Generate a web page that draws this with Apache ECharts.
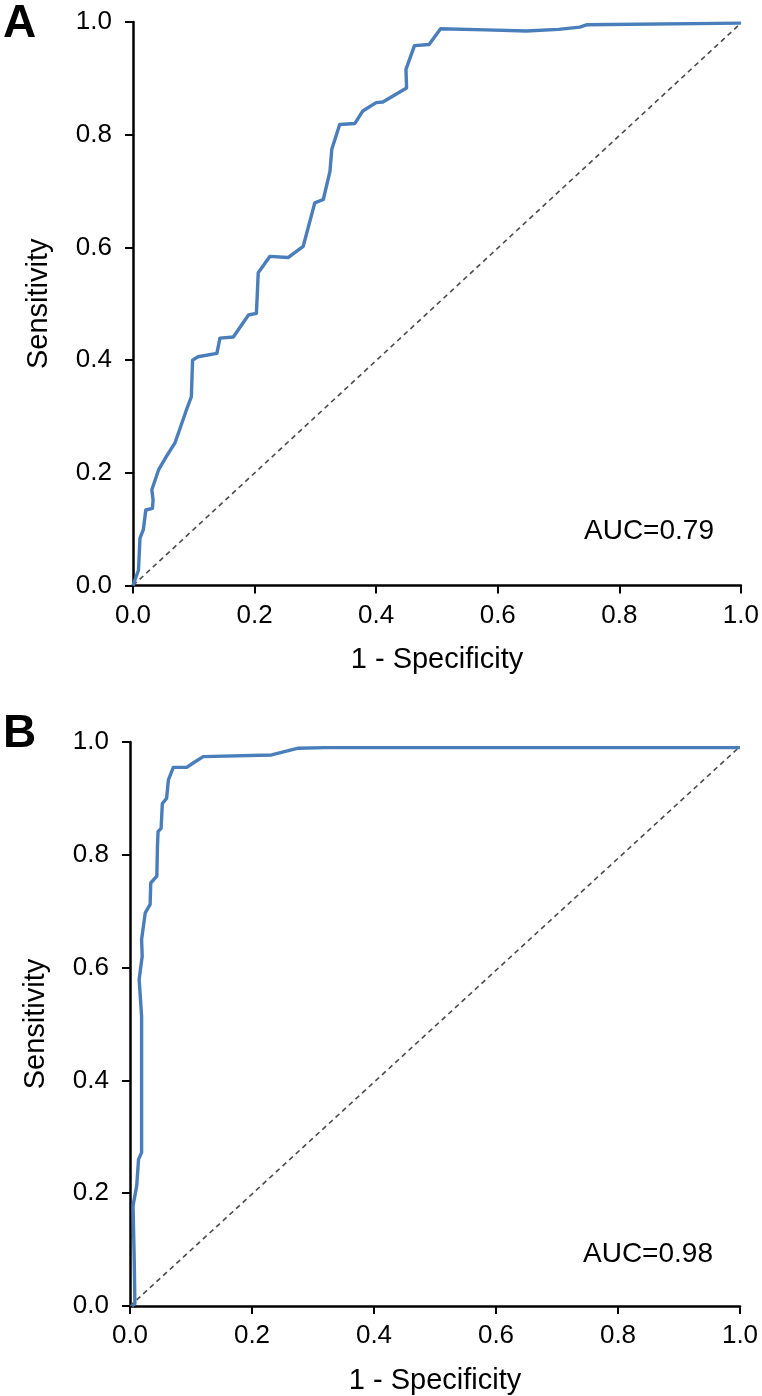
<!DOCTYPE html>
<html>
<head>
<meta charset="utf-8">
<script src="https://cdn.jsdelivr.net/npm/echarts@6/dist/echarts.min.js"></script>
<style>
html,body{margin:0;padding:0;background:#fff;}
#chart{width:762px;height:1396px;}
</style>
</head>
<body>
<div id="chart"></div>
<script>
// ---- data ----
var tickLabels = ['0.0','0.2','0.4','0.6','0.8','1.0'];
var panelLabels = ['A','B'];
var aucLabels = ['AUC=0.79','AUC=0.98'];
var xTitle = '1 - Specificity';
var yTitle = 'Sensitivity';

// Panel A ROC curve: [1 - specificity, sensitivity]
var rocA = [
  [0.000,0.000],[0.002,0.000],[0.009,0.027],[0.0115,0.084],[0.017,0.099],[0.021,0.134],
  [0.032,0.137],[0.033,0.152],[0.031,0.170],[0.042,0.205],[0.055,0.229],[0.069,0.253],
  [0.088,0.312],[0.096,0.335],[0.098,0.400],[0.107,0.406],[0.138,0.412],[0.143,0.439],
  [0.165,0.441],[0.190,0.480],[0.203,0.483],[0.206,0.555],[0.225,0.584],[0.255,0.582],
  [0.280,0.602],[0.299,0.679],[0.313,0.685],[0.324,0.735],[0.327,0.774],[0.340,0.818],
  [0.365,0.820],[0.378,0.842],[0.400,0.857],[0.411,0.858],[0.450,0.883],[0.449,0.916],
  [0.463,0.958],[0.487,0.960],[0.506,0.988],[0.580,0.986],[0.647,0.984],[0.700,0.987],
  [0.735,0.991],[0.746,0.995],[1.000,0.998]
];

// Panel B ROC curve
var rocB = [
  [0.003,0.000],[0.008,0.004],[0.007,0.077],[0.005,0.178],[0.011,0.213],[0.014,0.260],
  [0.019,0.272],[0.019,0.514],[0.015,0.579],[0.020,0.620],[0.019,0.650],[0.025,0.697],
  [0.033,0.712],[0.034,0.750],[0.044,0.762],[0.045,0.815],[0.046,0.841],[0.051,0.847],
  [0.053,0.891],[0.060,0.900],[0.063,0.933],[0.071,0.955],[0.093,0.955],[0.101,0.961],
  [0.120,0.974],[0.232,0.977],[0.276,0.989],[0.320,0.990],[1.000,0.990]
];

var diagA = [[0,0],[1,0.998]];
var diagB = [[0,0],[1,0.992]];

// ---- chart ----
var FONT = 'Liberation Sans, Arial, sans-serif';
var chart = echarts.init(document.getElementById('chart'), null, {renderer:'canvas'});

function xAx(gi){
  return {
    type:'value', gridIndex:gi, min:0, max:1, interval:0.2,
    name:xTitle, nameLocation:'middle', nameGap:60,
    nameTextStyle:{fontFamily:FONT,fontSize:29,color:'#000'},
    axisLine:{show:true,onZero:false,lineStyle:{color:'#000',width:2.5}},
    axisTick:{show:true,inside:false,length:8,lineStyle:{color:'#000',width:2}},
    axisLabel:{fontFamily:FONT,fontSize:26,color:'#000',margin:17,
      formatter:function(v){return tickLabels[Math.round(v*5)];}},
    splitLine:{show:false}
  };
}
function yAx(gi){
  return {
    type:'value', gridIndex:gi, min:0, max:1, interval:0.2,
    name:yTitle, nameLocation:'middle', nameGap:80,
    nameTextStyle:{fontFamily:FONT,fontSize:29,color:'#000'},
    axisLine:{show:true,onZero:false,lineStyle:{color:'#000',width:2.5}},
    axisTick:{show:true,inside:false,length:8,lineStyle:{color:'#000',width:2}},
    axisLabel:{fontFamily:FONT,fontSize:26,color:'#000',margin:21,
      formatter:function(v){return tickLabels[Math.round(v*5)];}},
    splitLine:{show:false}
  };
}
function curve(gi,data){
  return {type:'line',xAxisIndex:gi,yAxisIndex:gi,data:data,showSymbol:false,symbol:'none',
    lineStyle:{color:'#4a7ebb',width:3.4,join:'round'},animation:false,z:3};
}
function diag(gi,data){
  return {type:'line',xAxisIndex:gi,yAxisIndex:gi,data:data,showSymbol:false,symbol:'none',
    lineStyle:{color:'#4a4a4a',width:1.6,type:[5,4]},animation:false,z:2};
}

chart.setOption({
  animation:false,
  backgroundColor:'#fff',
  grid:[
    {left:133,top:22,width:608.5,height:563.5,containLabel:false},
    {left:130,top:742,width:610,height:565,containLabel:false}
  ],
  xAxis:[xAx(0),xAx(1)],
  yAxis:[yAx(0),yAx(1)],
  series:[diag(0,diagA),curve(0,rocA),diag(1,diagB),curve(1,rocB)],
  graphic:[
    {type:'text',left:3,top:1,style:{text:panelLabels[0],fontFamily:FONT,fontSize:46,fontWeight:'bold',fill:'#000'}},
    {type:'text',left:3,top:711,style:{text:panelLabels[1],fontFamily:FONT,fontSize:46,fontWeight:'bold',fill:'#000'}},
    {type:'text',left:584,top:517,style:{text:aucLabels[0],fontFamily:FONT,fontSize:28,fill:'#000'}},
    {type:'text',left:583,top:1240,style:{text:aucLabels[1],fontFamily:FONT,fontSize:28,fill:'#000'}}
  ]
});
</script>
</body>
</html>
